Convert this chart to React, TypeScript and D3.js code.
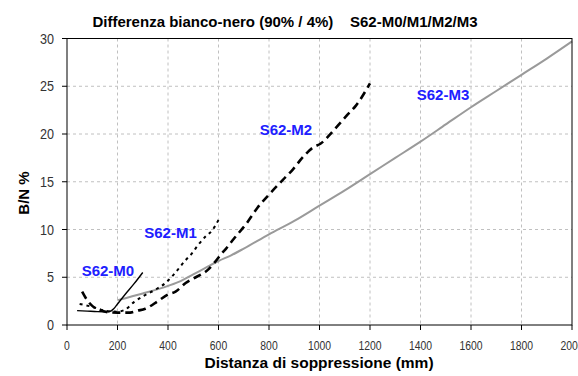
import React from "react";
import * as d3 from "d3";

const W = 578, H = 376;
const M = { left: 67, right: 6, top: 38.5, bottom: 51 };

const title = "Differenza bianco-nero (90% / 4%)    S62-M0/M1/M2/M3";
const xLabel = "Distanza di soppressione (mm)";
const yLabel = "B/N %";
const xTicks = [0, 200, 400, 600, 800, 1000, 1200, 1400, 1600, 1800, 2000];
const yTicks = [0, 5, 10, 15, 20, 25, 30];

// [distance, value]
const m0: [number, number][] = [[40, 1.5], [80, 1.45], [120, 1.4], [165, 1.38], [185, 1.7], [200, 2.2], [230, 3.2], [265, 4.3], [300, 5.5]];
const m1: [number, number][] = [[50, 2.2], [100, 1.9], [150, 1.5], [200, 1.4], [230, 1.6], [265, 2.4], [300, 3.0], [350, 3.7], [390, 4.4], [420, 5.2], [470, 6.8], [495, 7.5], [520, 8.4], [550, 9.3], [575, 9.9], [600, 11.0]];
const m2: [number, number][] = [[60, 3.5], [80, 2.6], [100, 2.0], [130, 1.6], [160, 1.35], [200, 1.3], [250, 1.3], [280, 1.5], [310, 1.7], [360, 2.5], [400, 3.2], [430, 3.5], [470, 4.4], [510, 5.0], [550, 5.6], [580, 6.4], [610, 7.4], [630, 8.0], [660, 9.0], [710, 10.6], [755, 12.3], [805, 13.8], [855, 15.2], [895, 16.3], [935, 17.6], [975, 18.6], [1005, 19.0], [1040, 19.9], [1070, 20.8], [1110, 22.0], [1145, 23.0], [1200, 25.3]];
const m3: [number, number][] = [[200, 2.6], [300, 3.3], [400, 4.1], [450, 4.6], [500, 5.3], [550, 6.0], [600, 6.7], [650, 7.3], [700, 8.0], [800, 9.5], [900, 10.9], [1000, 12.5], [1100, 14.1], [1200, 15.8], [1300, 17.5], [1400, 19.2], [1500, 21.0], [1600, 22.8], [1700, 24.5], [1800, 26.2], [1900, 27.9], [2000, 29.7]];

const labels: { text: string; x: number; y: number }[] = [
  { text: "S62-M0", x: 162, y: 5.1 },
  { text: "S62-M1", x: 410, y: 9.1 },
  { text: "S62-M2", x: 867, y: 19.9 },
  { text: "S62-M3", x: 1489, y: 23.6 },
];

export default function App() {
  const x = d3.scaleLinear().domain([0, 2000]).range([M.left, W - M.right]);
  const y = d3.scaleLinear().domain([0, 30]).range([H - M.bottom, M.top]);
  const line = d3.line<[number, number]>().x(d => x(d[0])).y(d => y(d[1])).curve(d3.curveMonotoneX);
  const font = "Arial, 'Liberation Sans', sans-serif";
  const x0 = x(0), x1 = x(2000), y0 = y(0), y1 = y(30);
  return (
    <svg width={W} height={H} style={{ position: "absolute", left: 0, top: 0, background: "#fff" }} fontFamily={font}>
      <rect x={0} y={0} width={W} height={H} fill="#fff" />
      {/* grid */}
      {xTicks.slice(1, -1).map(t => (
        <line key={"gx" + t} x1={x(t)} x2={x(t)} y1={y1} y2={y0} stroke="#c0c0c0" strokeDasharray="3,3" />
      ))}
      {yTicks.slice(1, -1).map(t => (
        <line key={"gy" + t} x1={x0} x2={x1} y1={y(t)} y2={y(t)} stroke="#c0c0c0" strokeDasharray="3,3" />
      ))}
      {/* series */}
      <path d={line(m3)!} fill="none" stroke="#9a9a9a" strokeWidth={2} />
      <path d={line(m0)!} fill="none" stroke="#000" strokeWidth={1.4} />
      <path d={line(m1)!} fill="none" stroke="#000" strokeWidth={2} strokeDasharray="3,4" />
      <path d={line(m2)!} fill="none" stroke="#000" strokeWidth={2.6} strokeDasharray="8,5" />
      {/* frame */}
      <rect x={x0} y={y1} width={x1 - x0} height={y0 - y1} fill="none" stroke="#000" strokeWidth={1} />
      {xTicks.map(t => (
        <g key={"xt" + t}>
          <line x1={x(t)} x2={x(t)} y1={y0} y2={y0 + 5} stroke="#000" />
          <text transform={`translate(${x(t)},${y0 + 25}) scale(0.8,1)`} textAnchor="middle" fontSize={13} fill="#333">{t}</text>
        </g>
      ))}
      {yTicks.map(t => (
        <g key={"yt" + t}>
          <line x1={x0 - 5} x2={x0} y1={y(t)} y2={y(t)} stroke="#000" />
          <text transform={`translate(${x0 - 13},${y(t) + 5}) scale(0.9,1)`} textAnchor="end" fontSize={14} fill="#333">{t}</text>
        </g>
      ))}
      {labels.map(l => (
        <text key={l.text} x={x(l.x)} y={y(l.y)} textAnchor="middle" fontSize={15} fontWeight="bold" fill="#2020ff">{l.text}</text>
      ))}
      <text x={285} y={27} textAnchor="middle" fontSize={15} fontWeight="bold" fill="#000" style={{ whiteSpace: "pre" }}>{title}</text>
      <text x={319} y={368} textAnchor="middle" fontSize={15.5} fontWeight="bold" fill="#000">{xLabel}</text>
      <text transform={`translate(29,193) rotate(-90)`} textAnchor="middle" fontSize={15} fontWeight="bold" fill="#000">{yLabel}</text>
    </svg>
  );
}
